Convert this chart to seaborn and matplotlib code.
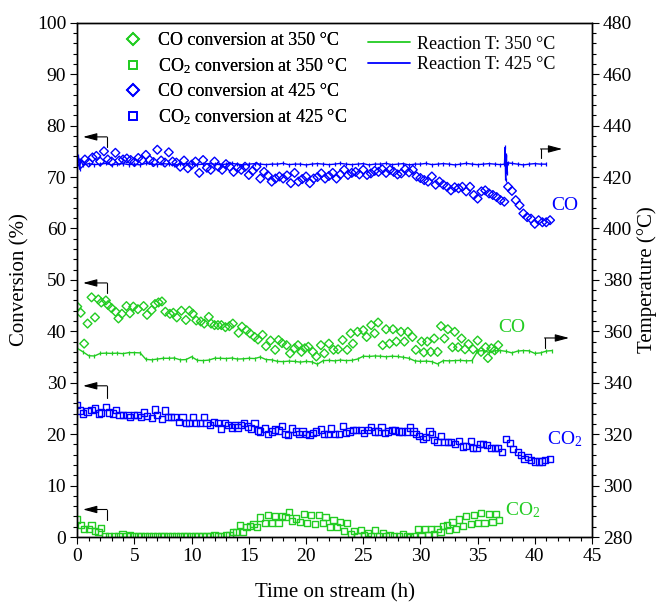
import numpy as np
import pandas as pd
import matplotlib
matplotlib.use("Agg")
import matplotlib.pyplot as plt
import seaborn as sns
from matplotlib.ticker import MultipleLocator
from matplotlib.lines import Line2D

# ---------------- data ----------------
# CO conversion at 425 C (sampled every 1/3 h)
SAMPLE_STEP_H = 1 / 3
co_425 = [73.0, 72.6, 73.4, 72.8, 73.8, 74.1, 73.0, 75.0, 73.4, 73.0,
          74.7, 73.2, 73.4, 73.6, 73.3, 72.9, 73.7, 73.3, 74.3, 73.3,
          72.9, 75.3, 73.2, 72.8, 74.8, 73.0, 72.8, 72.0, 73.2, 71.7,
          72.4, 73.0, 70.8, 73.3, 71.8, 71.4, 73.0, 72.0, 71.4, 72.5,
          72.0, 71.0, 71.8, 71.4, 72.0, 70.4, 71.2, 72.0, 69.7, 71.0,
          70.3, 69.1, 69.7, 70.1, 69.7, 70.3, 68.8, 70.8, 69.1, 69.6,
          70.1, 68.8, 69.7, 70.0, 70.7, 69.7, 70.2, 70.8, 69.7, 70.5,
          71.4, 70.4, 70.8, 71.0, 70.5, 71.4, 70.4, 70.7, 71.2, 71.0,
          71.5, 70.8, 71.4, 71.0, 70.5, 70.7, 71.5, 70.9, 71.4, 70.1,
          69.8, 69.4, 69.1, 70.1, 68.5, 69.1, 68.5, 68.1, 67.4, 68.0,
          67.8, 68.1, 67.2, 68.1, 66.5, 65.8, 67.2, 67.4, 66.8, 66.5,
          66.1, 65.5, 65.2, 68.1, 67.3, 65.5, 64.5, 62.9, 62.2, 61.9,
          60.9, 61.6, 61.2, 61.2, 61.6]

# CO conversion at 350 C
co_350_t = [0.0, 0.3, 0.6, 0.9, 1.25, 1.55, 1.84, 2.1, 2.5, 2.7,
            3.0, 3.35, 3.6, 3.9, 4.3, 4.6, 4.9, 5.3, 5.8, 6.1,
            6.5, 6.8, 7.1, 7.4, 7.7, 8.1, 8.4, 8.7, 9.1, 9.5,
            9.8, 10.1, 10.4, 10.8, 11.1, 11.5, 11.7, 12.0, 12.3, 12.6,
            12.95, 13.3, 13.6, 14.1, 14.4, 14.8, 15.1, 15.5, 15.8, 16.2,
            16.5, 16.9, 17.3, 17.6, 17.9, 18.3, 18.6, 19.0, 19.3, 19.6,
            19.9, 20.2, 20.6, 20.9, 21.3, 21.6, 22.0, 22.4, 22.8, 23.2,
            23.6, 23.9, 24.1, 24.5, 25.0, 25.3, 25.7, 26.0, 26.3, 26.7,
            27.0, 27.3, 27.6, 27.9, 28.3, 28.6, 28.9, 29.3, 29.6, 30.1,
            30.3, 30.6, 30.9, 31.2, 31.5, 31.8, 32.1, 32.4, 32.8, 33.0,
            33.3, 33.6, 33.9, 34.2, 34.6, 35.0, 35.3, 35.7, 35.9, 36.2,
            36.5, 36.8]
co_350 = [44.8, 43.6, 37.6, 41.5, 46.6, 42.7, 46.2, 45.6, 46.0, 45.1,
          44.5, 43.8, 42.5, 43.4, 44.9, 43.5, 44.8, 44.3, 44.9, 43.2,
          44.1, 45.3, 45.6, 45.8, 43.8, 43.4, 43.6, 42.7, 44.0, 42.2,
          44.0, 43.4, 42.1, 41.9, 41.5, 42.8, 41.5, 41.2, 41.2, 41.2,
          40.8, 41.0, 41.5, 39.7, 40.9, 40.2, 39.6, 38.9, 38.4, 39.3,
          37.1, 38.2, 36.4, 38.3, 37.7, 37.3, 35.7, 36.7, 37.3, 36.0,
          36.7, 37.0, 36.0, 35.1, 37.3, 35.7, 37.6, 36.4, 36.5, 38.3,
          36.4, 39.6, 37.6, 39.9, 40.2, 38.9, 41.2, 39.6, 41.7, 37.3,
          40.4, 37.6, 40.4, 38.0, 39.9, 38.0, 39.9, 38.9, 36.4, 38.0,
          35.9, 38.0, 36.0, 38.6, 36.0, 41.0, 38.6, 40.4, 36.9, 39.9,
          36.9, 38.6, 36.5, 37.5, 36.5, 38.2, 36.0, 36.9, 34.8, 36.7,
          36.3, 37.3]

# CO2 conversion at 425 C
co2_425_t = [0.0, 0.25, 0.53, 0.9, 1.25, 1.55, 1.9, 2.1, 2.5, 2.8,
             3.1, 3.4, 3.7, 4.0, 4.4, 4.6, 4.98, 5.27, 5.56, 5.85,
             6.1, 6.5, 6.8, 7.0, 7.4, 7.7, 7.9, 8.2, 8.5, 8.9,
             9.2, 9.5, 9.8, 10.1, 10.4, 10.7, 11.1, 11.3, 11.6, 11.97,
             12.3, 12.6, 12.9, 13.2, 13.5, 13.8, 14.0, 14.3, 14.6, 14.9,
             15.2, 15.5, 15.8, 16.0, 16.4, 16.7, 17.0, 17.3, 17.6, 17.9,
             18.2, 18.4, 18.8, 19.1, 19.4, 19.7, 20.0, 20.3, 20.6, 20.9,
             21.3, 21.6, 21.9, 22.2, 22.5, 22.9, 23.2, 23.5, 23.8, 24.1,
             24.4, 24.8, 25.1, 25.4, 25.7, 26.0, 26.3, 26.6, 26.9, 27.2,
             27.5, 27.8, 28.1, 28.4, 28.8, 29.1, 29.4, 29.6, 29.9, 30.2,
             30.5, 30.8, 31.0, 31.2, 31.5, 31.8, 32.1, 32.4, 32.7, 33.0,
             33.4, 33.7, 34.0, 34.4, 34.6, 34.9, 35.2, 35.5, 35.8, 36.2,
             36.5, 36.8, 37.1, 37.5, 37.8, 38.1, 38.5, 38.8, 39.1, 39.4,
             39.7, 40.0, 40.4, 40.6, 40.9, 41.3]
co2_425 = [25.7, 24.6, 24.0, 24.4, 24.7, 25.0, 24.0, 24.2, 25.3, 24.2,
           24.0, 24.7, 23.8, 23.8, 23.8, 23.3, 23.8, 23.8, 23.4, 24.2,
           23.6, 23.1, 24.8, 23.8, 22.9, 24.6, 23.4, 23.4, 23.4, 22.4,
           23.3, 22.2, 22.2, 23.3, 22.1, 22.1, 23.3, 22.1, 21.8, 22.4,
           22.1, 21.1, 22.1, 21.8, 21.3, 21.8, 21.3, 21.8, 22.2, 21.5,
           21.1, 22.2, 20.7, 20.5, 21.1, 20.1, 20.5, 20.9, 20.7, 21.6,
           20.0, 19.8, 21.1, 20.5, 20.1, 20.5, 20.1, 19.8, 20.3, 20.5,
           20.9, 20.0, 20.0, 21.1, 20.1, 20.0, 21.6, 20.3, 20.5, 20.8,
           20.8, 20.8, 20.3, 20.8, 21.4, 20.5, 20.5, 21.4, 20.3, 20.5,
           20.8, 20.7, 20.5, 20.5, 20.5, 21.3, 20.5, 20.1, 19.6, 19.0,
           19.5, 20.5, 20.1, 18.9, 18.4, 19.6, 18.4, 18.4, 18.4, 18.1,
           18.7, 17.6, 17.7, 18.6, 17.3, 17.3, 18.1, 18.1, 17.9, 17.3,
           17.3, 17.3, 16.6, 19.0, 18.3, 17.1, 16.6, 16.0, 15.2, 15.5,
           15.0, 14.7, 14.7, 14.7, 15.0, 15.2]

# CO2 conversion at 350 C
co2_350_t = [0.0, 0.3, 0.6, 1.0, 1.25, 1.55, 1.85, 2.1, 2.4, 2.8,
             3.2, 3.6, 3.95, 4.3, 4.6, 4.95, 5.3, 5.6, 5.95, 6.3,
             6.6, 6.95, 7.3, 7.6, 7.95, 8.3, 8.6, 8.95, 9.3, 9.6,
             9.95, 10.3, 10.6, 10.95, 11.3, 11.6, 12.0, 12.3, 12.6, 13.0,
             13.3, 13.6, 13.9, 14.2, 14.5, 14.8, 15.1, 15.4, 15.7, 16.0,
             16.4, 16.7, 17.0, 17.3, 17.6, 17.9, 18.2, 18.5, 18.8, 19.1,
             19.5, 19.8, 20.1, 20.4, 20.8, 21.1, 21.5, 21.7, 22.1, 22.4,
             22.7, 23.0, 23.3, 23.6, 23.9, 24.2, 24.5, 24.8, 25.1, 25.4,
             25.7, 26.0, 26.35, 26.7, 27.0, 27.3, 27.7, 28.1, 28.5, 28.8,
             29.1, 29.45, 29.8, 30.1, 30.4, 30.7, 30.9, 31.2, 31.5, 31.75,
             32.0, 32.3, 32.5, 32.8, 33.1, 33.4, 33.7, 34.0, 34.4, 34.7,
             35.0, 35.3, 35.6, 36.0, 36.3, 36.6, 36.9]
co2_350 = [3.4, 2.3, 1.5, 1.5, 2.3, 1.2, 1.0, 1.8, 0.2, 0.2,
           0.2, 0.2, 0.6, 0.2, 0.4, 0.1, 0.2, 0.1, 0.2, 0.1,
           0.2, 0.1, 0.2, 0.1, 0.2, 0.1, 0.2, 0.1, 0.2, 0.1,
           0.2, 0.1, 0.2, 0.1, 0.2, 0.1, 0.4, 0.2, 0.2, 0.4,
           0.4, 1.0, 0.9, 2.3, 1.0, 1.9, 2.2, 2.5, 2.0, 3.8,
           2.8, 4.3, 2.8, 4.1, 2.8, 4.1, 3.9, 4.9, 3.1, 3.6,
           2.9, 4.4, 2.8, 4.3, 2.5, 4.3, 2.8, 3.9, 1.9, 3.3,
           1.9, 2.9, 1.2, 2.8, 0.6, 1.2, 0.2, 1.4, 0.4, 0.8,
           0.2, 1.3, 0.2, 0.7, 0.2, 0.4, 0.2, 0.2, 0.6, 0.2,
           0.0, 0.2, 1.5, 0.2, 1.5, 0.3, 1.6, 0.5, 1.6, 0.9,
           2.1, 2.3, 1.3, 2.9, 1.5, 3.4, 2.1, 4.1, 2.5, 4.3,
           2.8, 4.6, 2.8, 4.4, 2.9, 4.4, 3.3]

# Reaction temperatures (sampled every 0.5 h) plus short transients
TEMP_STEP_H = 0.5
temp_425 = [425.0, 424.6, 425.2, 424.8, 425.0, 425.3, 424.7, 425.0, 425.2, 424.8,
            425.0, 424.7, 425.3, 425.0, 424.8, 425.2, 425.0, 424.7, 425.0, 425.3,
            425.0, 424.8, 425.0, 425.2, 425.0, 424.8, 425.0, 425.3, 425.0, 424.7,
            425.0, 425.2, 425.0, 424.8, 425.0, 425.0, 425.3, 424.8, 425.0, 425.0,
            424.7, 425.0, 425.2, 425.0, 424.8, 425.0, 425.3, 425.0, 424.8, 425.0,
            425.2, 424.7, 425.0, 425.0, 425.3, 424.8, 425.0, 425.2, 424.7, 425.0,
            425.0, 425.3, 424.8, 425.0, 425.2, 425.0, 424.7, 425.0, 425.3, 425.0,
            424.8, 425.0, 425.2, 425.0, 424.8, 425.0, 425.3, 425.0, 424.7, 425.0,
            425.2, 425.0, 425.0]
temp_425_extra_t = [0.1, 0.2, 0.3, 37.35, 37.4, 37.45, 37.52, 37.57, 37.62]
temp_425_extra = [428.0, 423.0, 426.5, 425.0, 431.5, 418.8, 428.5, 421.5, 425.5]

temp_350 = [353.4, 352.0, 350.5, 350.4, 351.4, 351.5, 351.4, 351.5, 351.3, 351.7,
            351.7, 351.6, 349.1, 348.9, 349.2, 349.5, 349.5, 349.6, 348.9, 349.0,
            350.1, 348.7, 348.6, 348.8, 349.5, 349.5, 349.4, 349.6, 349.2, 349.3,
            349.5, 349.4, 350.0, 349.0, 348.9, 348.3, 348.2, 348.4, 348.3, 348.0,
            348.3, 348.1, 347.2, 348.6, 348.7, 348.5, 348.8, 348.6, 348.7, 349.2,
            350.3, 350.2, 350.4, 350.3, 350.1, 350.3, 350.2, 349.9, 349.5, 348.5,
            348.3, 348.4, 348.2, 347.3, 348.6, 348.5, 348.6, 348.7, 348.5, 348.6,
            352.3, 352.5, 351.8, 352.4, 352.5, 352.2, 351.6, 352.3, 352.5, 352.4,
            351.4, 351.6, 352.3, 352.5]

x_ticks = [0, 5, 10, 15, 20, 25, 30, 35, 40, 45]
labels_markers = ["CO conversion at 350 °C", r"CO$_{\mathrm{2}}$ conversion at 350 °C",
                  "CO conversion at 425 °C", r"CO$_{\mathrm{2}}$ conversion at 425 °C"]
labels_lines = ["Reaction T: 350 °C", "Reaction T: 425 °C"]

# ---------------- style ----------------
GREEN = "#22cc22"
BLUE = "#0000ff"

sns.set_theme(style="ticks")
plt.rcParams["font.family"] = ["Liberation Serif", "DejaVu Serif"]
plt.rcParams["mathtext.fontset"] = "custom"
plt.rcParams["mathtext.rm"] = "Liberation Serif"
plt.rcParams["mathtext.it"] = "Liberation Serif:italic"
plt.rcParams["mathtext.bf"] = "Liberation Serif:bold"
for k in ["text.color", "axes.labelcolor", "xtick.color", "ytick.color", "axes.edgecolor"]:
    plt.rcParams[k] = "black"

fig = plt.figure(figsize=(6.61, 6.04), dpi=100)
ax = fig.add_axes([0.1169, 0.1109, 0.7787, 0.8515])
ax2 = ax.twinx()

df_co425 = pd.DataFrame({"t": np.arange(len(co_425)) * SAMPLE_STEP_H, "v": co_425})
df_co350 = pd.DataFrame({"t": co_350_t, "v": co_350})
df_co2425 = pd.DataFrame({"t": co2_425_t, "v": co2_425})
df_co2350 = pd.DataFrame({"t": co2_350_t, "v": co2_350})

DIA_S = 20
SQ_S = 20
sns.scatterplot(data=df_co350, x="t", y="v", marker="D", s=DIA_S, facecolor="none",
                edgecolor=GREEN, linewidth=1.0, ax=ax, legend=False)
sns.scatterplot(data=df_co2350, x="t", y="v", marker="s", s=SQ_S, facecolor="none",
                edgecolor=GREEN, linewidth=1.0, ax=ax, legend=False)
sns.scatterplot(data=df_co425, x="t", y="v", marker="D", s=DIA_S, facecolor="none",
                edgecolor=BLUE, linewidth=1.0, ax=ax, legend=False)
sns.scatterplot(data=df_co2425, x="t", y="v", marker="s", s=SQ_S, facecolor="none",
                edgecolor=BLUE, linewidth=1.0, ax=ax, legend=False)

t425 = list(np.arange(len(temp_425)) * TEMP_STEP_H) + temp_425_extra_t
df_t425 = pd.DataFrame({"t": t425, "T": temp_425 + temp_425_extra}).sort_values("t")
df_t350 = pd.DataFrame({"t": np.arange(len(temp_350)) * TEMP_STEP_H, "T": temp_350})

sns.lineplot(data=df_t350, x="t", y="T", ax=ax2, color=GREEN, lw=1.0, marker="|",
             markersize=3.5, markeredgecolor=GREEN, markeredgewidth=0.9,
             estimator=None, legend=False)
sns.lineplot(data=df_t425, x="t", y="T", ax=ax2, color=BLUE, lw=1.0, marker="|",
             markersize=3.5, markeredgecolor=BLUE, markeredgewidth=0.9,
             estimator=None, sort=False, legend=False)

# ---------------- axes ----------------
ax.set_xlim(0, 45)
ax.set_ylim(0, 100)
ax2.set_ylim(280, 480)
ax.set_xticks(x_ticks)
ax.xaxis.set_minor_locator(MultipleLocator(1))
ax.yaxis.set_major_locator(MultipleLocator(10))
ax.yaxis.set_minor_locator(MultipleLocator(2))
ax2.yaxis.set_major_locator(MultipleLocator(20))
ax2.yaxis.set_minor_locator(MultipleLocator(4))

for a in (ax, ax2):
    a.tick_params(which="major", direction="out", length=5, width=0.8, labelsize=14, pad=3)
    a.tick_params(which="minor", direction="out", length=3, width=0.8)
    for sp in a.spines.values():
        sp.set_visible(True)
        sp.set_linewidth(1.0)
        sp.set_color("black")
ax.tick_params(top=False, right=False, which="both")
ax2.tick_params(top=False, left=False, which="both")

ax.set_xlabel("Time on stream (h)", fontsize=15, labelpad=13)
ax.set_ylabel("Conversion (%)", fontsize=15, labelpad=5)
ax2.set_ylabel("Temperature (°C)", fontsize=15, labelpad=3)

# ---------------- legends ----------------
mh = [Line2D([], [], ls="none", marker="D", ms=6.5, mfc="none", mec=GREEN, mew=1.3),
      Line2D([], [], ls="none", marker="s", ms=5.5, mfc="none", mec=GREEN, mew=1.3),
      Line2D([], [], ls="none", marker="D", ms=6.5, mfc="none", mec=BLUE, mew=1.3),
      Line2D([], [], ls="none", marker="s", ms=5.5, mfc="none", mec=BLUE, mew=1.3)]
leg1 = ax.legend(mh, labels_markers, loc="upper left", bbox_to_anchor=(0.09, 0.982),
                 frameon=False, fontsize=13, handlelength=1.0, handletextpad=0.9,
                 labelspacing=0.4, borderpad=0, borderaxespad=0)
ax.add_artist(leg1)
lh = [Line2D([], [], color=GREEN, lw=1.3), Line2D([], [], color=BLUE, lw=1.3)]
ax2.legend(lh, labels_lines, loc="upper left", bbox_to_anchor=(0.565, 0.975),
           frameon=False, fontsize=13, handlelength=2.3, handletextpad=0.4,
           labelspacing=0.2, borderpad=0, borderaxespad=0)

# ---------------- annotations ----------------
ax.text(42.6, 64.5, "CO", color=BLUE, fontsize=14, ha="center", va="center")
ax.text(37.95, 40.8, "CO", color=GREEN, fontsize=14, ha="center", va="center")
ax.text(42.6, 19.0, r"CO$_{\mathrm{2}}$", color=BLUE, fontsize=14, ha="center", va="center")
ax.text(38.9, 5.2, r"CO$_{\mathrm{2}}$", color=GREEN, fontsize=14, ha="center", va="center")

arrow_style = dict(arrowstyle="-|>,head_length=0.6,head_width=0.16", color="black",
                   lw=0.8, shrinkA=0, shrinkB=0, mutation_scale=14)
for y_top, y_bot in [(77.8, 75.8), (49.4, 47.4), (29.4, 27.0), (5.35, 3.3)]:
    ax.plot([2.6, 2.6], [y_bot, y_top], color="black", lw=0.8)
    ax.annotate("", xy=(0.5, y_top), xytext=(2.6, y_top), arrowprops=arrow_style)
for x0, x1, y_top, y_bot in [(40.5, 42.4, 430.9, 427.3), (40.85, 43.0, 357.4, 353.5)]:
    ax2.plot([x0, x0], [y_bot, y_top], color="black", lw=0.8)
    ax2.annotate("", xy=(x1, y_top), xytext=(x0, y_top), arrowprops=arrow_style)

fig.savefig("out.png", dpi=100)
